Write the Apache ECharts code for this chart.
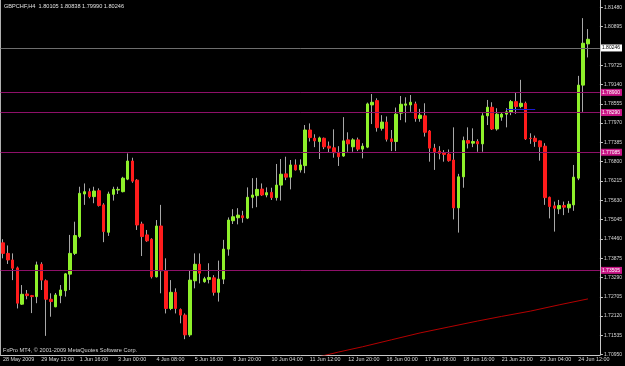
<!DOCTYPE html>
<html><head><meta charset="utf-8">
<script src="https://cdn.jsdelivr.net/npm/echarts@6/dist/echarts.min.js"></script>
<style>html,body{margin:0;padding:0;background:#000;}#c{width:625px;height:366px;}</style>
</head><body><div id="c"></div>
<script>
// ---- data (GBPCHF H4, 28 May 2009 08:00 .. 24 Jun 2009 20:00) ----
const opens = [1.7434,1.7402,1.7382,1.7358,1.7248,1.7279,1.7274,1.7271,1.7369,1.7319,
1.7263,1.7240,1.7274,1.7289,1.7339,1.7402,1.7453,1.7582,1.7589,1.7574,
1.7592,1.7549,1.7466,1.7581,1.7594,1.7589,1.7627,1.7682,1.7624,1.7491,
1.7458,1.7445,1.7331,1.7485,1.7349,1.7235,1.7284,1.7232,1.7215,1.7155,
1.7319,1.7369,1.7316,1.7323,1.7328,1.7284,1.7324,1.7415,1.7501,1.7510,
1.7516,1.7509,1.7572,1.7577,1.7597,1.7579,1.7587,1.7571,1.7609,1.7643,
1.7633,1.7670,1.7655,1.7668,1.7776,1.7751,1.7741,1.7751,1.7727,1.7722,
1.7708,1.7697,1.7746,1.7725,1.7746,1.7718,1.7724,1.7852,1.7865,1.7781,
1.7800,1.7749,1.7741,1.7827,1.7851,1.7852,1.7855,1.7811,1.7819,1.7773,
1.7721,1.7712,1.7707,1.7703,1.7685,1.7540,1.7634,1.7744,1.7736,1.7741,
1.7734,1.7819,1.7845,1.7779,1.7815,1.7824,1.7830,1.7862,1.7847,1.7857,
1.7751,1.7751,1.7743,1.7727,1.7572,1.7546,1.7537,1.7547,1.7540,1.7549,
1.7630,1.7912,1.8037];
const highs = [1.7445,1.7426,1.7402,1.7362,1.7306,1.7291,1.7276,1.7377,1.7375,1.7323,
1.7281,1.7282,1.7306,1.7342,1.7458,1.7498,1.7604,1.7614,1.7599,1.7604,
1.7599,1.7554,1.7589,1.7604,1.7604,1.7634,1.7705,1.7692,1.7627,1.7498,
1.7473,1.7448,1.7503,1.7549,1.7387,1.7321,1.7296,1.7235,1.7220,1.7349,
1.7402,1.7402,1.7331,1.7372,1.7336,1.7380,1.7443,1.7511,1.7536,1.7539,
1.7531,1.7602,1.7630,1.7631,1.7614,1.7602,1.7601,1.7673,1.7688,1.7695,
1.7685,1.7687,1.7687,1.7791,1.7796,1.7763,1.7756,1.7753,1.7741,1.7778,
1.7727,1.7815,1.7769,1.7751,1.7753,1.7736,1.7859,1.7885,1.7872,1.7821,
1.7817,1.7776,1.7844,1.7879,1.7875,1.7882,1.7862,1.7840,1.7857,1.7776,
1.7734,1.7727,1.7715,1.7717,1.7784,1.7643,1.7756,1.7784,1.7781,1.7748,
1.7827,1.7867,1.7860,1.7842,1.7828,1.7842,1.7867,1.7889,1.7928,1.7862,
1.7766,1.7759,1.7744,1.7736,1.7574,1.7559,1.7564,1.7559,1.7561,1.7670,
1.7940,1.8115,1.8082];
const lows = [1.7387,1.7370,1.7321,1.7235,1.7246,1.7263,1.7221,1.7251,1.7291,1.7152,
1.7210,1.7239,1.7251,1.7271,1.7291,1.7397,1.7448,1.7549,1.7569,1.7554,
1.7544,1.7436,1.7455,1.7562,1.7582,1.7587,1.7624,1.7616,1.7473,1.7394,
1.7437,1.7326,1.7329,1.7281,1.7220,1.7230,1.7220,1.7190,1.7142,1.7149,
1.7296,1.7311,1.7313,1.7311,1.7274,1.7256,1.7309,1.7395,1.7491,1.7490,
1.7495,1.7506,1.7539,1.7542,1.7576,1.7572,1.7564,1.7562,1.7562,1.7624,
1.7596,1.7653,1.7647,1.7645,1.7741,1.7724,1.7688,1.7718,1.7708,1.7692,
1.7667,1.7695,1.7710,1.7710,1.7712,1.7690,1.7721,1.7794,1.7771,1.7774,
1.7741,1.7712,1.7712,1.7806,1.7799,1.7831,1.7801,1.7801,1.7756,1.7680,
1.7655,1.7687,1.7680,1.7680,1.7505,1.7465,1.7601,1.7720,1.7724,1.7710,
1.7710,1.7791,1.7776,1.7774,1.7804,1.7784,1.7821,1.7825,1.7842,1.7746,
1.7734,1.7725,1.7683,1.7549,1.7508,1.7468,1.7521,1.7518,1.7525,1.7531,
1.7624,1.7831,1.7996];
const closes = [1.7402,1.7382,1.7357,1.7251,1.7278,1.7274,1.7271,1.7367,1.7321,1.7263,
1.7256,1.7276,1.7291,1.7340,1.7402,1.7456,1.7584,1.7589,1.7574,1.7591,
1.7547,1.7468,1.7582,1.7596,1.7596,1.7630,1.7682,1.7621,1.7488,1.7453,
1.7440,1.7331,1.7485,1.7349,1.7235,1.7284,1.7235,1.7215,1.7155,1.7321,
1.7369,1.7342,1.7325,1.7329,1.7284,1.7324,1.7415,1.7503,1.7513,1.7518,
1.7510,1.7572,1.7579,1.7596,1.7579,1.7586,1.7571,1.7609,1.7642,1.7633,
1.7670,1.7655,1.7670,1.7776,1.7753,1.7743,1.7752,1.7725,1.7721,1.7707,
1.7695,1.7743,1.7734,1.7746,1.7718,1.7727,1.7855,1.7860,1.7783,1.7800,
1.7748,1.7741,1.7824,1.7854,1.7855,1.7860,1.7811,1.7821,1.7769,1.7721,
1.7710,1.7705,1.7702,1.7683,1.7540,1.7634,1.7744,1.7736,1.7741,1.7734,
1.7819,1.7845,1.7779,1.7824,1.7824,1.7831,1.7862,1.7847,1.7857,1.7749,
1.7750,1.7741,1.7725,1.7571,1.7544,1.7539,1.7547,1.7542,1.7551,1.7633,
1.7912,1.8039,1.8051];
const tickLabels = ['28 May 2009','29 May 12:00','1 Jun 16:00','3 Jun 00:00','4 Jun 08:00','5 Jun 16:00',
'8 Jun 20:00','10 Jun 04:00','11 Jun 12:00','12 Jun 20:00','16 Jun 00:00','17 Jun 08:00',
'18 Jun 16:00','21 Jun 23:00','23 Jun 04:00','24 Jun 12:00'];
const priceTicks = [1.70950,1.71535,1.72120,1.72705,1.73290,1.73875,1.74460,1.75045,1.75630,
1.76215,1.76800,1.77385,1.77970,1.78555,1.79140,1.79725,1.80895,1.81480];
const levelLines = [1.78900,1.78290,1.77085,1.73505];
const bidPrice = 1.80246;
const maBars = [66,70,75,81,87,93,99,104,110,116,122];
const maValues = [1.7089,1.7103,1.7119,1.7140,1.7161,1.7179,1.7197,1.7211,1.7227,1.7246,1.7264];
const blueSeg = {from:105, to:111, price:1.7839};
const titleText = 'GBPCHF,H4  1.80105 1.80838 1.79990 1.80246';
const copyright = 'FxPro MT4, \u00a9 2001-2009 MetaQuotes Software Corp.';

// ---- build ----
const nCat = opens.length + 2;
const cats = Array.from({length:nCat}, (_, i) => i);
const wickData = opens.map((o, i) => [o, closes[i], lows[i], highs[i]]);
const bodyData = opens.map((o, i) => [o, closes[i], Math.min(o, closes[i]), Math.max(o, closes[i])]);
const maData = cats.map(() => null);
maBars.forEach((b, k) => { maData[b] = maValues[k]; });
const FONT = 'Liberation Sans';

function levelSeries(value, lineColor, boxColor, textColor) {
  return {type:'line', data:[], silent:true, z:4,
    markLine:{silent:true, symbol:'none', animation:false, precision:5,
      lineStyle:{color:lineColor, width:1, type:'solid'},
      label:{show:true, position:'end', distance:1, formatter:value.toFixed(5), backgroundColor:boxColor,
        color:textColor, fontSize:5, fontFamily:FONT, padding:[1,2,1,1]},
      data:[{yAxis:value}]}};
}

const chart = echarts.init(document.getElementById('c'), null, {renderer:'canvas'});
chart.setOption({
  backgroundColor:'#000000',
  animation:false,
  grid:{left:0, right:23, top:0, bottom:11},
  xAxis:{type:'category', data:cats, boundaryGap:true,
    axisLine:{lineStyle:{color:'#c8c8c8', width:1}},
    axisTick:{interval:7, alignWithLabel:true, length:3, lineStyle:{color:'#c8c8c8'}},
    axisLabel:{interval:7, margin:2, align:'left', fontSize:5.4, fontFamily:FONT, color:'#d8d8d8',
      formatter:(v, i) => tickLabels[Math.round(i/8)] || ''},
    splitLine:{show:false}},
  yAxis:[{type:'value', position:'right', min:1.70940, max:1.81700, scale:true,
    axisLine:{show:true, lineStyle:{color:'#c8c8c8', width:1}},
    axisTick:{show:true, length:3, customValues:priceTicks, lineStyle:{color:'#c8c8c8'}},
    axisLabel:{customValues:priceTicks, margin:4, fontSize:5, fontFamily:FONT, color:'#d8d8d8',
      formatter:v => v.toFixed(5)},
    splitLine:{show:false}},
   {type:'value', position:'left', min:1.70940, max:1.81700,
    axisLine:{show:true, lineStyle:{color:'#b0b0b0', width:1}},
    axisTick:{show:false}, axisLabel:{show:false}, splitLine:{show:false}}],
  graphic:[
    {type:'text', left:4, top:3, style:{text:titleText, fill:'#e0e0e0', font:'5.6px ' + FONT}},
    {type:'text', left:3, top:347, style:{text:copyright, fill:'#d8d8d8', font:'5.6px ' + FONT}}
  ],
  series:[
    {type:'line', data:maData, connectNulls:true, symbol:'none', silent:true,
     lineStyle:{color:'#b40000', width:1}, z:1},
    ...levelLines.map(v => levelSeries(v, '#8e1069', '#c71585', '#ffffff')),
    levelSeries(bidPrice, '#6e6e6e', '#ffffff', '#000000'),
    {type:'line', silent:true, z:4, data:[],
     markLine:{silent:true, symbol:'none', animation:false, precision:5, label:{show:false},
       lineStyle:{color:'#1a1ad0', width:1, type:'solid'},
       data:[[{coord:[blueSeg.from, blueSeg.price]}, {coord:[blueSeg.to, blueSeg.price]}]]}},
    {type:'candlestick', data:wickData, barWidth:1, silent:true, z:2,
     itemStyle:{color:'#a8a8a8', color0:'#a8a8a8', borderColor:'#a8a8a8', borderColor0:'#a8a8a8', borderColorDoji:'#a8a8a8', borderWidth:1}},
    {type:'candlestick', data:bodyData, barWidth:3, silent:true, z:3,
     itemStyle:{color:'#8ef02a', color0:'#ff1c1c', borderColor:'#8ef02a', borderColor0:'#ff1c1c', borderColorDoji:'#c0c0c0', borderWidth:1}}
  ]
});
</script></body></html>
